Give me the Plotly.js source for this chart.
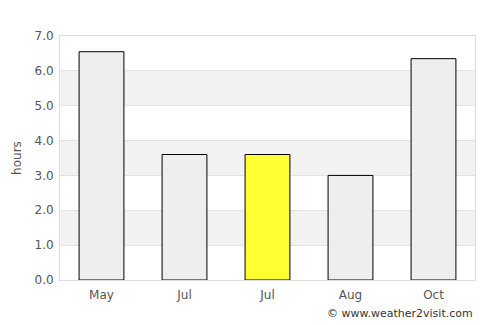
<!DOCTYPE html>
<html><head><meta charset="utf-8">
<script src="https://cdn.plot.ly/plotly-3.0.1.min.js"></script>
<style>html,body{margin:0;padding:0;background:#fff}#chart{width:500px;height:325px}</style>
</head><body><div id="chart"></div>
<script>
var months = ["May", "Jul", "Jul", "Aug", "Oct"];
var hours = [6.55, 3.6, 3.6, 3.0, 6.35];
var barColors = ["#eeeeee", "#eeeeee", "#ffff33", "#eeeeee", "#eeeeee"];
var yTicks = [0, 1, 2, 3, 4, 5, 6, 7];
var yTickText = ["0.0", "1.0", "2.0", "3.0", "4.0", "5.0", "6.0", "7.0"];
var bands = [[1, 2], [3, 4], [5, 6]];

var xs = months.map(function (_, i) { return i; });
var shapes = bands.map(function (b) {
  return {type: "rect", xref: "paper", yref: "y", x0: 0, x1: 1, y0: b[0], y1: b[1],
          fillcolor: "#f2f2f2", line: {width: 0}, layer: "below"};
});
var font = {family: "DejaVu Sans, sans-serif", size: 12, color: "#555"};
Plotly.newPlot("chart", [{
  type: "bar", x: xs, y: hours, width: 0.54,
  marker: {color: barColors, line: {color: "#000", width: 1}},
  hoverinfo: "skip"
}], {
  width: 500, height: 325,
  margin: {l: 60, r: 25, t: 36, b: 45},
  paper_bgcolor: "#fff", plot_bgcolor: "rgba(0,0,0,0)",
  font: font,
  showlegend: false,
  shapes: shapes,
  xaxis: {range: [-0.5, 4.5], tickvals: xs, ticktext: months, showgrid: false,
          zeroline: false, showline: true, mirror: true, linecolor: "#dddddd", linewidth: 1,
          ticks: "", ticklabelstandoff: 4, fixedrange: true, tickfont: font},
  yaxis: {range: [0, 7], tickvals: yTicks, ticktext: yTickText, showgrid: true,
          gridcolor: "#e3e3e3", zeroline: false, showline: true, mirror: true,
          linecolor: "#dddddd", linewidth: 1, ticks: "", ticklabelstandoff: 3, fixedrange: true, tickfont: font,
          title: {text: "hours", font: font, standoff: 10}},
  annotations: [{text: "© www.weather2visit.com", xref: "paper", yref: "paper",
                 x: 1, y: 0, xanchor: "right", yanchor: "middle", yshift: -33, showarrow: false,
                 font: {family: "DejaVu Sans, sans-serif", size: 11, color: "#333"}}]
}, {displayModeBar: false, staticPlot: true});
</script></body></html>
